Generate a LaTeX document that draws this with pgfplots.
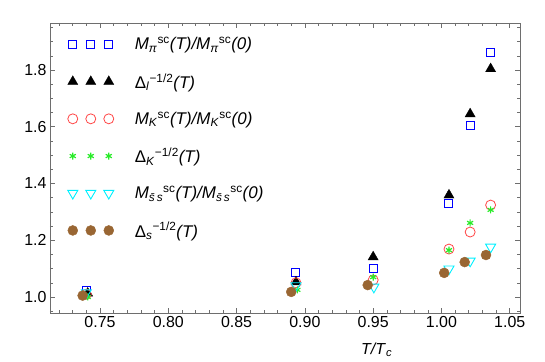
\documentclass[border=0pt]{standalone}
\usepackage{pgfplots}
\pgfplotsset{compat=1.18}
\usepackage{fontspec}
\setmainfont{Liberation Sans}
\definecolor{mblue}{RGB}{0,0,255}
\definecolor{mred}{RGB}{255,70,70}
\definecolor{mgreen}{RGB}{40,235,40}
\definecolor{mcyan}{RGB}{0,240,255}
\definecolor{mbrown}{RGB}{153,102,51}
\definecolor{frame}{RGB}{110,110,110}
\begin{document}
\begin{tikzpicture}[font=\fontsize{16}{19}\selectfont]
\useasboundingbox (-50bp,-49bp) rectangle (495bp,313bp);
\begin{axis}[
  at={(0,0)}, anchor=south west,
  scale only axis, width=470bp, height=290bp,
  xmin=0.7134, xmax=1.0575, ymin=0.9436, ymax=1.9656,
  xtick={0.75,0.80,0.85,0.90,0.95,1.00,1.05},
  minor xtick={0.72,0.73,0.74,0.76,0.77,0.78,0.79,0.81,0.82,0.83,0.84,0.86,0.87,0.88,0.89,0.91,0.92,0.93,0.94,0.96,0.97,0.98,0.99,1.01,1.02,1.03,1.04},
  ytick={1.0,1.2,1.4,1.6,1.8},
  minor ytick={0.95,1.05,1.1,1.15,1.25,1.3,1.35,1.45,1.5,1.55,1.65,1.7,1.75,1.85,1.9,1.95},
  /pgf/number format/assume math mode=true,
  x tick label style={/pgf/number format/.cd, fixed, fixed zerofill, precision=2},
  y tick label style={/pgf/number format/.cd, fixed, fixed zerofill, precision=1},
  tick align=inside,
  major tick length=5bp, minor tick length=3bp,
  every tick/.style={frame, line width=0.6bp},
  axis line style={frame, line width=0.9bp},
  xlabel={\textit{T/T}\textsubscript{\textit{c}}},
  xlabel style={at={(axis description cs:0.695,0)}, anchor=north, yshift=-26bp},
  legend cell align=left,
  legend style={at={(axis description cs:0.031,0.965)}, anchor=north west, draw=none, fill=none,
    row sep=18bp, column sep=19bp, font=\fontsize{17}{20}\selectfont},
  legend image code/.code={\draw[#1, only marks] plot coordinates {(0bp,0bp) (18bp,0bp) (36bp,0bp)};},
]
\addplot[only marks, mark=square, mblue, mark size=4bp, line width=1bp] coordinates {
(0.740,1.022) (0.8935,1.085) (0.950,1.099) (1.0055,1.331) (1.021,1.603) (1.036,1.863)};
\addlegendentry{\textit{M}\textsubscript{\textit{π}}\textsuperscript{sc}\textit{(T)/M}\textsubscript{\textit{π}}\textsuperscript{sc}\textit{(0)}}
\addplot[only marks, mark=triangle*, black, mark size=5.8bp] coordinates {
(0.741,1.013) (0.8935,1.053) (0.950,1.141) (1.0055,1.359) (1.021,1.645) (1.036,1.804)};
\addlegendentry{Δ\textsubscript{\textit{l}}\textsuperscript{−1/2}\textit{(T)}}
\addplot[only marks, mark=o, mred, mark size=5bp, line width=0.8bp] coordinates {
(0.740,1.010) (0.8935,1.050) (0.950,1.060) (1.0055,1.169) (1.021,1.229) (1.036,1.324)};
\addlegendentry{\textit{M}\textsubscript{\textit{K}}\textsuperscript{sc}\textit{(T)/M}\textsubscript{\textit{K}}\textsuperscript{sc}\textit{(0)}}
\addplot[only marks, mark=asterisk, mgreen, mark size=3.5bp, line width=1.2bp] coordinates {
(0.741,1.000) (0.8945,1.025) (0.950,1.070) (1.0055,1.165) (1.021,1.261) (1.036,1.307)};
\addlegendentry{Δ\textsubscript{\textit{K}}\textsuperscript{−1/2}\textit{(T)}}
\addplot[only marks, mark=triangle, mark options={rotate=180}, mcyan, mark size=5.8bp, line width=0.9bp] coordinates {
(0.740,1.015) (0.8935,1.040) (0.9505,1.035) (1.0055,1.099) (1.021,1.127) (1.036,1.176)};
\addlegendentry{\textit{M}\textsubscript{\textit{\={s}\,s}}\textsuperscript{sc}\textit{(T)/M}\textsubscript{\textit{\={s}\,s}}\textsuperscript{sc}\textit{(0)}}
\addplot[only marks, mark=*, mbrown, mark size=5bp] coordinates {
(0.7373,1.005) (0.890,1.018) (0.946,1.042) (1.002,1.085) (1.017,1.123) (1.0326,1.148)};
\addlegendentry{Δ\textsubscript{\textit{s}}\textsuperscript{−1/2}\textit{(T)}}
\end{axis}
\end{tikzpicture}
\end{document}
